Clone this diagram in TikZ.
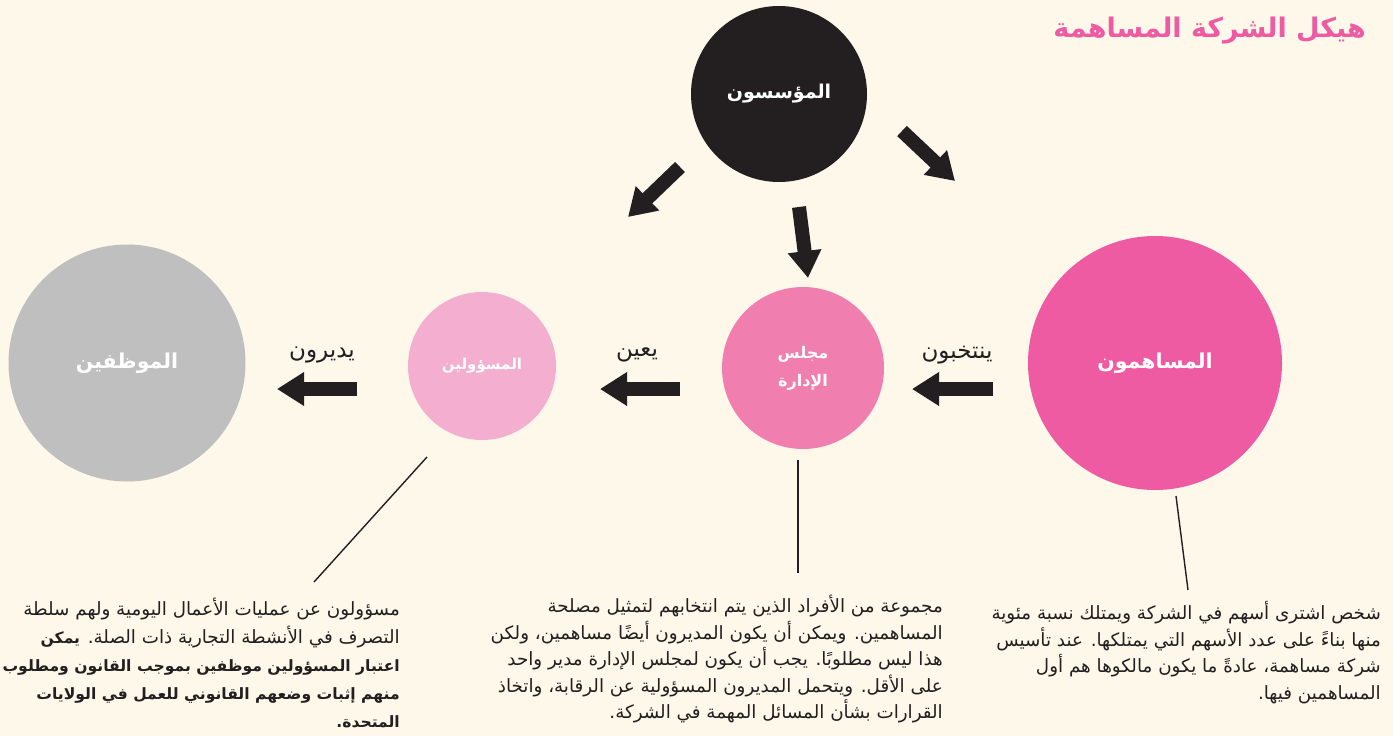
\documentclass[tikz,border=0pt]{standalone}
\usepackage{fontspec}
\usetikzlibrary{arrows.meta}
\newfontfamily\arabicfont[Script=Arabic]{DejaVu Sans}
\TeXXeTstate=1
\definecolor{bgc}{HTML}{FDF8E9}
\definecolor{inkc}{HTML}{231F20}
\definecolor{emplc}{HTML}{BFBFBF}
\definecolor{offc}{HTML}{F4AECF}
\definecolor{boardc}{HTML}{F07FB0}
\definecolor{sharec}{HTML}{EE5BA2}
\newcommand{\bodybold}[1]{{\bfseries\fontsize{15.6}{28}\selectfont #1}}
\begin{document}
\begin{tikzpicture}[x=1pt,y=-1pt,
  circ/.style={circle, inner sep=0pt, text=white, align=center},
  blockarrow/.style={draw=inkc, line width=14pt, -{Triangle[length=27pt,width=32pt]}},
  leader/.style={draw=inkc, line width=1.4pt},
  lbl/.style={font=\arabicfont\fontsize{23}{26}\selectfont, text=inkc, inner sep=0pt},
  body/.style={align=right, inner sep=0pt, anchor=north east, text=inkc},
]
\fill[bgc] (0,0) rectangle (1393,736);
\useasboundingbox (0,0) rectangle (1393,736);

% title
\node[font=\arabicfont\bfseries\fontsize{27}{30}\selectfont, text=sharec, anchor=east, inner sep=0pt] (title) at (1366,31) {\beginR هيكل الشركة المساهمة\endR};

% circles
\node[circ, fill=inkc, minimum size=176pt, font=\arabicfont\bfseries\fontsize{19}{24}\selectfont] (founders) at (779,94) {\beginR المؤسسون\endR};
\node[circ, fill=emplc, minimum size=237pt, font=\arabicfont\bfseries\fontsize{20.5}{26}\selectfont] (employees) at (127,363) {\beginR الموظفين\endR};
\node[circ, fill=offc, minimum size=148pt, font=\arabicfont\bfseries\fontsize{15}{18}\selectfont] (officers) at (482,366) {\beginR المسؤولين\endR};
\node[circ, fill=boardc, minimum size=162pt, font=\arabicfont\bfseries\fontsize{16}{28}\selectfont] (board) at (803,368) {\beginR مجلس\endR\\\beginR الإدارة\endR};
\node[circ, fill=sharec, minimum size=254pt, font=\arabicfont\bfseries\fontsize{20.5}{24}\selectfont] (shareholders) at (1155,363) {\beginR المساهمون\endR};

% arrow end points
\coordinate (fL0) at (680,167);
\coordinate (fL1) at (628,217);
\coordinate (fM0) at (799,207);
\coordinate (fM1) at (808,278);
\coordinate (fR0) at (902,131);
\coordinate (fR1) at (955,181);
\coordinate (sb0) at (993,389);
\coordinate (sb1) at (912,389);
\coordinate (bo0) at (680,389);
\coordinate (bo1) at (600,389);
\coordinate (oe0) at (357,389);
\coordinate (oe1) at (277,389);

\draw[blockarrow] (fL0) -- (fL1);
\draw[blockarrow] (fM0) -- (fM1);
\draw[blockarrow] (fR0) -- (fR1);
\draw[blockarrow] (sb0) -- (sb1);
\draw[blockarrow] (bo0) -- (bo1);
\draw[blockarrow] (oe0) -- (oe1);

% arrow labels
\node[lbl] (lelect) at (957,355) {\beginR ينتخبون\endR};
\node[lbl] (lappoint) at (637,355) {\beginR يعين\endR};
\node[lbl] (lmanage) at (322,355) {\beginR يديرون\endR};

% text blocks
\node[body, font=\arabicfont\fontsize{18.3}{28}\selectfont] (toff) at (400,598) {%
\beginR مسؤولون عن عمليات الأعمال اليومية ولهم سلطة\endR\\
\beginR التصرف في الأنشطة التجارية ذات الصلة. \bodybold{يمكن}\endR\\
\beginR\bodybold{اعتبار المسؤولين موظفين بموجب القانون ومطلوب}\endR\\
\beginR\bodybold{منهم إثبات وضعهم القانوني للعمل في الولايات}\endR\\
\beginR\bodybold{المتحدة.}\endR};

\node[body, font=\arabicfont\fontsize{18.3}{26.5}\selectfont] (tboard) at (943,595) {%
\beginR مجموعة من الأفراد الذين يتم انتخابهم لتمثيل مصلحة\endR\\
\beginR المساهمين. ويمكن أن يكون المديرون أيضًا مساهمين، ولكن\endR\\
\beginR هذا ليس مطلوبًا. يجب أن يكون لمجلس الإدارة مدير واحد\endR\\
\beginR على الأقل. ويتحمل المديرون المسؤولية عن الرقابة، واتخاذ\endR\\
\beginR القرارات بشأن المسائل المهمة في الشركة.\endR};

\node[body, font=\arabicfont\fontsize{18.3}{26.7}\selectfont] (tshare) at (1381,601) {%
\beginR شخص اشترى أسهم في الشركة ويمتلك نسبة مئوية\endR\\
\beginR منها بناءً على عدد الأسهم التي يمتلكها. عند تأسيس\endR\\
\beginR شركة مساهمة، عادةً ما يكون مالكوها هم أول\endR\\
\beginR المساهمين فيها.\endR};

% leader lines
\coordinate (offA) at (427,457);
\coordinate (offB) at (314,582);
\coordinate (brdA) at (798,460);
\coordinate (brdB) at (798,573);
\coordinate (shA) at (1176,496);
\coordinate (shB) at (1188,590);
\draw[leader] (offA) -- (offB);
\draw[leader] (brdA) -- (brdB);
\draw[leader] (shA) -- (shB);
\end{tikzpicture}
\end{document}
